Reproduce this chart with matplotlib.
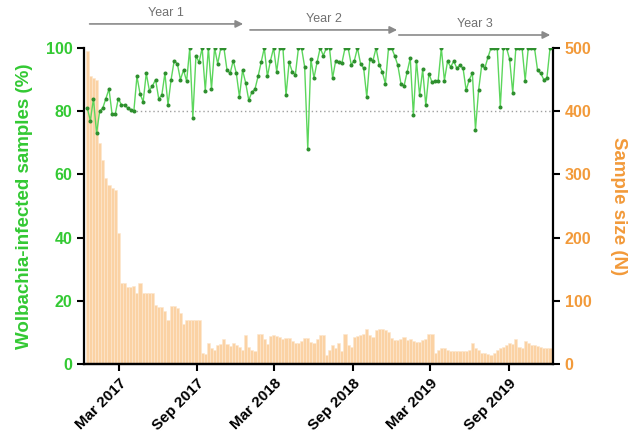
import numpy as np
import pandas as pd
import matplotlib
matplotlib.use("Agg")
import matplotlib.pyplot as plt
import matplotlib.dates as mdates

plt.rcParams['font.family'] = ['Liberation Sans', 'DejaVu Sans']

# weekly collections, first and last sampling dates
start_date = '2016-12-17'
end_date = '2019-12-07'

# % of samples infected with Wolbachia (left axis)
infected_pct = [
    81, 77, 84, 73, 80, 81, 84, 87, 79, 79, 84, 82, 82, 81, 80.5, 80, 91, 85.5, 83, 92,
    86.5, 88, 90, 84, 85, 92, 82, 90, 96, 95, 90, 93, 89.5, 100, 78, 97.5, 95.5, 100, 86.5, 100,
    87, 100, 95, 100, 100, 93, 92, 96, 92, 84.5, 93, 89, 83.5, 86, 87, 91, 95.5, 100, 91, 96,
    100, 92.5, 100, 100, 85, 95.5, 92.5, 91.5, 100, 100, 94, 68, 96.5, 90.5, 95.5, 100,
    97.6, 100, 100, 90.5, 96, 95.5, 95.3, 100, 100, 94.7, 96, 100, 95, 93.6, 84.5, 96.6, 96, 100,
    94.7, 92.4, 88.7, 100, 100, 97.5, 94.5, 88.7, 88, 92.4, 96.8, 78.8, 96, 85, 93.2, 81.8, 91.9,
    89.2, 89.5, 89.7, 100, 89.7, 95.8, 94, 95.8, 93.6, 94.5, 93.6, 86.6, 90, 92, 74.2, 86.6, 94.5,
    93.6, 97, 100, 100, 100, 81.3, 100, 100, 96.4, 85.8, 100, 100, 100, 89.7, 100, 100, 100, 92.9,
    92, 90, 90.5, 100,
]

# number of mosquitoes screened per week (right axis)
sample_size = [
    495, 455, 452, 450, 349, 323, 294, 283, 278, 275, 207, 129, 129, 122, 122, 123, 112, 129, 112, 112,
    112, 112, 93, 91, 91, 84, 70, 92, 92, 88, 80, 64, 70, 70, 70, 70, 70, 17, 16, 33,
    26, 22, 30, 32, 39, 32, 28, 33, 30, 27, 23, 46, 27, 23, 21, 47, 47, 39, 32, 44,
    46, 44, 43, 39, 42, 41, 37, 33, 34, 37, 41, 41, 35, 33, 40, 46,
    46, 14, 22, 30, 25, 33, 20, 47, 30, 27, 43, 44, 46, 48, 56, 46, 43, 54, 55, 55,
    54, 50, 41, 38, 38, 40, 43, 38, 39, 37, 35, 35, 38, 39, 48, 48, 17, 22, 25, 25,
    23, 21, 21, 20, 21, 20, 21, 22, 33, 25, 22, 18, 17, 16, 14, 18, 22, 26, 27, 30,
    33, 32, 39, 27, 25, 37, 33, 30, 30, 28, 27, 26, 26, 25,
]

year_labels = ['Year 1', 'Year 2', 'Year 3']
year_starts = ['2016-12-16', '2017-12-27', '2018-12-11']
year_ends = ['2017-12-24', '2018-12-20', '2019-12-14']
year_heights = [1.076, 1.057, 1.041]

threshold_pct = 80
threshold_from = '2017-04-02'

GREEN = '#33c933'
ORANGE = '#f29a3a'
BAR = '#fbd2a4'

dates = pd.date_range(start_date, end_date, periods=len(infected_pct))
bar_width = (dates[1] - dates[0]) / pd.Timedelta(days=1)
x_left = pd.Timestamp(start_date) - pd.Timedelta(days=7.5)
x_right = pd.Timestamp(end_date) + pd.Timedelta(days=7)

fig = plt.figure(figsize=(6.32, 4.36), dpi=100)
ax = fig.add_axes([0.133, 0.165, 0.742, 0.725])
ax2 = ax.twinx()

ax2.bar(dates, sample_size, width=bar_width, color=BAR, edgecolor='#fde7cf', linewidth=0.4)
ax2.set_ylim(0, 500)

ax.set_zorder(ax2.get_zorder() + 1)
ax.patch.set_visible(False)

ax.hlines(threshold_pct, pd.Timestamp(threshold_from), x_right, colors='#a0a0a0',
          linestyles=(0, (1, 2)), linewidth=1)
ax.plot(dates, infected_pct, color='#5cd65c', lw=1, marker='o', ms=1.9,
        mfc='#2e8f2e', mec='#2e8f2e')

ax.set_ylim(0, 100)
ax.set_yticks(range(0, 101, 20))
ax2.set_yticks(range(0, 501, 100))
ax.set_xlim(x_left, x_right)

ax.xaxis.set_major_locator(mdates.MonthLocator(bymonth=[3, 9]))
ax.xaxis.set_major_formatter(mdates.DateFormatter('%b %Y'))

for a in (ax, ax2):
    a.spines['top'].set_visible(False)
    for s in a.spines.values():
        s.set_linewidth(1.6)
ax.spines['right'].set_visible(False)
ax2.spines['left'].set_visible(False)

ax.tick_params(axis='y', labelcolor=GREEN, color='black', width=1.5, length=5, labelsize=11.5)
ax2.tick_params(axis='y', labelcolor=ORANGE, color='black', width=1.5, length=5, labelsize=11.5)
ax.tick_params(axis='x', color='black', width=1.5, length=5, labelsize=11)
for lbl in ax.get_yticklabels() + ax2.get_yticklabels() + ax.get_xticklabels():
    lbl.set_fontweight('bold')
for lbl in ax.get_xticklabels():
    lbl.set_rotation(45)
    lbl.set_ha('right')
    lbl.set_rotation_mode('anchor')

ax.set_ylabel('Wolbachia-infected samples (%)', color=GREEN, fontsize=13.5,
              fontweight='bold', labelpad=9)
ax2.set_ylabel('Sample size (N)', color=ORANGE, fontsize=13.5, fontweight='bold',
               rotation=270, va='bottom', labelpad=13)

trans = ax.get_xaxis_transform()
for label, s, e, h in zip(year_labels, year_starts, year_ends, year_heights):
    x0 = mdates.date2num(pd.Timestamp(s))
    x1 = mdates.date2num(pd.Timestamp(e))
    ax.annotate('', xy=(x1, h), xytext=(x0, h), xycoords=trans, textcoords=trans,
                arrowprops=dict(arrowstyle='-|>', color='#8a8a8a', lw=1.2, mutation_scale=11),
                annotation_clip=False)
    ax.text((x0 + x1) / 2, h + 0.035, label, transform=trans, ha='center', va='center',
            color='#707070', fontsize=9)

plt.savefig('out.png', dpi=100)
